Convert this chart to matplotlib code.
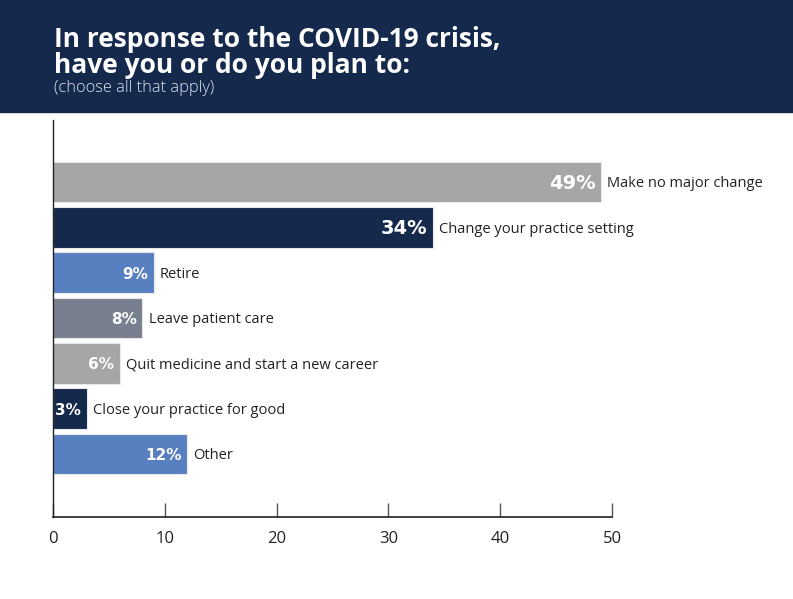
import matplotlib.pyplot as plt
from matplotlib.patches import Rectangle

categories = [
    "Make no major change",
    "Change your practice setting",
    "Retire",
    "Leave patient care",
    "Quit medicine and start a new career",
    "Close your practice for good",
    "Other",
]
values = [49, 34, 9, 8, 6, 3, 12]
bar_colors = ["#a6a6a6", "#15294d", "#5880c0", "#787f8e", "#a6a6a6", "#15294d", "#5880c0"]
ticks = [0, 10, 20, 30, 40, 50]

NAVY = "#15294d"

fig = plt.figure(figsize=(7.93, 5.99), dpi=100)

# header band
fig.patches.append(Rectangle((0, 1 - 112 / 599), 1, 112 / 599, transform=fig.transFigure,
                             color=NAVY, zorder=0))
fig.text(54 / 793, 1 - 47 / 599, "In response to the COVID-19 crisis,", color="white",
         fontsize=19, fontweight="bold", family="Open Sans", va="baseline")
fig.text(54 / 793, 1 - 73 / 599, "have you or do you plan to:", color="white",
         fontsize=19, fontweight="bold", family="Open Sans", va="baseline")
fig.text(54 / 793, 1 - 92 / 599, "(choose all that apply)", color="#dfe4ee",
         fontsize=11.8, fontweight="light", family="Open Sans", va="baseline")

ax = fig.add_axes([53 / 793, 1 - 517 / 599, (612 - 53) / 793, (517 - 120) / 599])
ypos = list(range(len(values)))
ax.barh(ypos, values, height=0.9, color=bar_colors, edgecolor="#e8e8e8", linewidth=0.8)

for i, (v, lab) in enumerate(zip(values, categories)):
    big = v >= 30
    ax.text(v - 0.5, i + 0.03, f"{v}%", color="white", fontweight="bold", family="DejaVu Sans",
            fontsize=14 if big else 11, ha="right", va="center")
    ax.text(v + 0.55, i + 0.04, lab, color="#222222", family="Open Sans", fontsize=10.5,
            ha="left", va="center")

ax.set_xlim(0, 50)
ax.set_ylim(7.39, -1.37)
ax.set_xticks(ticks)
ax.set_xticklabels([str(t) for t in ticks], family="Open Sans", fontsize=12, color="#222222")
ax.tick_params(axis="x", direction="in", length=10, width=1, color="#555555", pad=10)
ax.set_yticks([])
for side in ["top", "right"]:
    ax.spines[side].set_visible(False)
ax.spines["left"].set_color("#222222")
ax.spines["bottom"].set_color("#222222")
ax.spines["left"].set_linewidth(1)
ax.spines["bottom"].set_linewidth(1.2)

fig.savefig("out.png", dpi=100)
